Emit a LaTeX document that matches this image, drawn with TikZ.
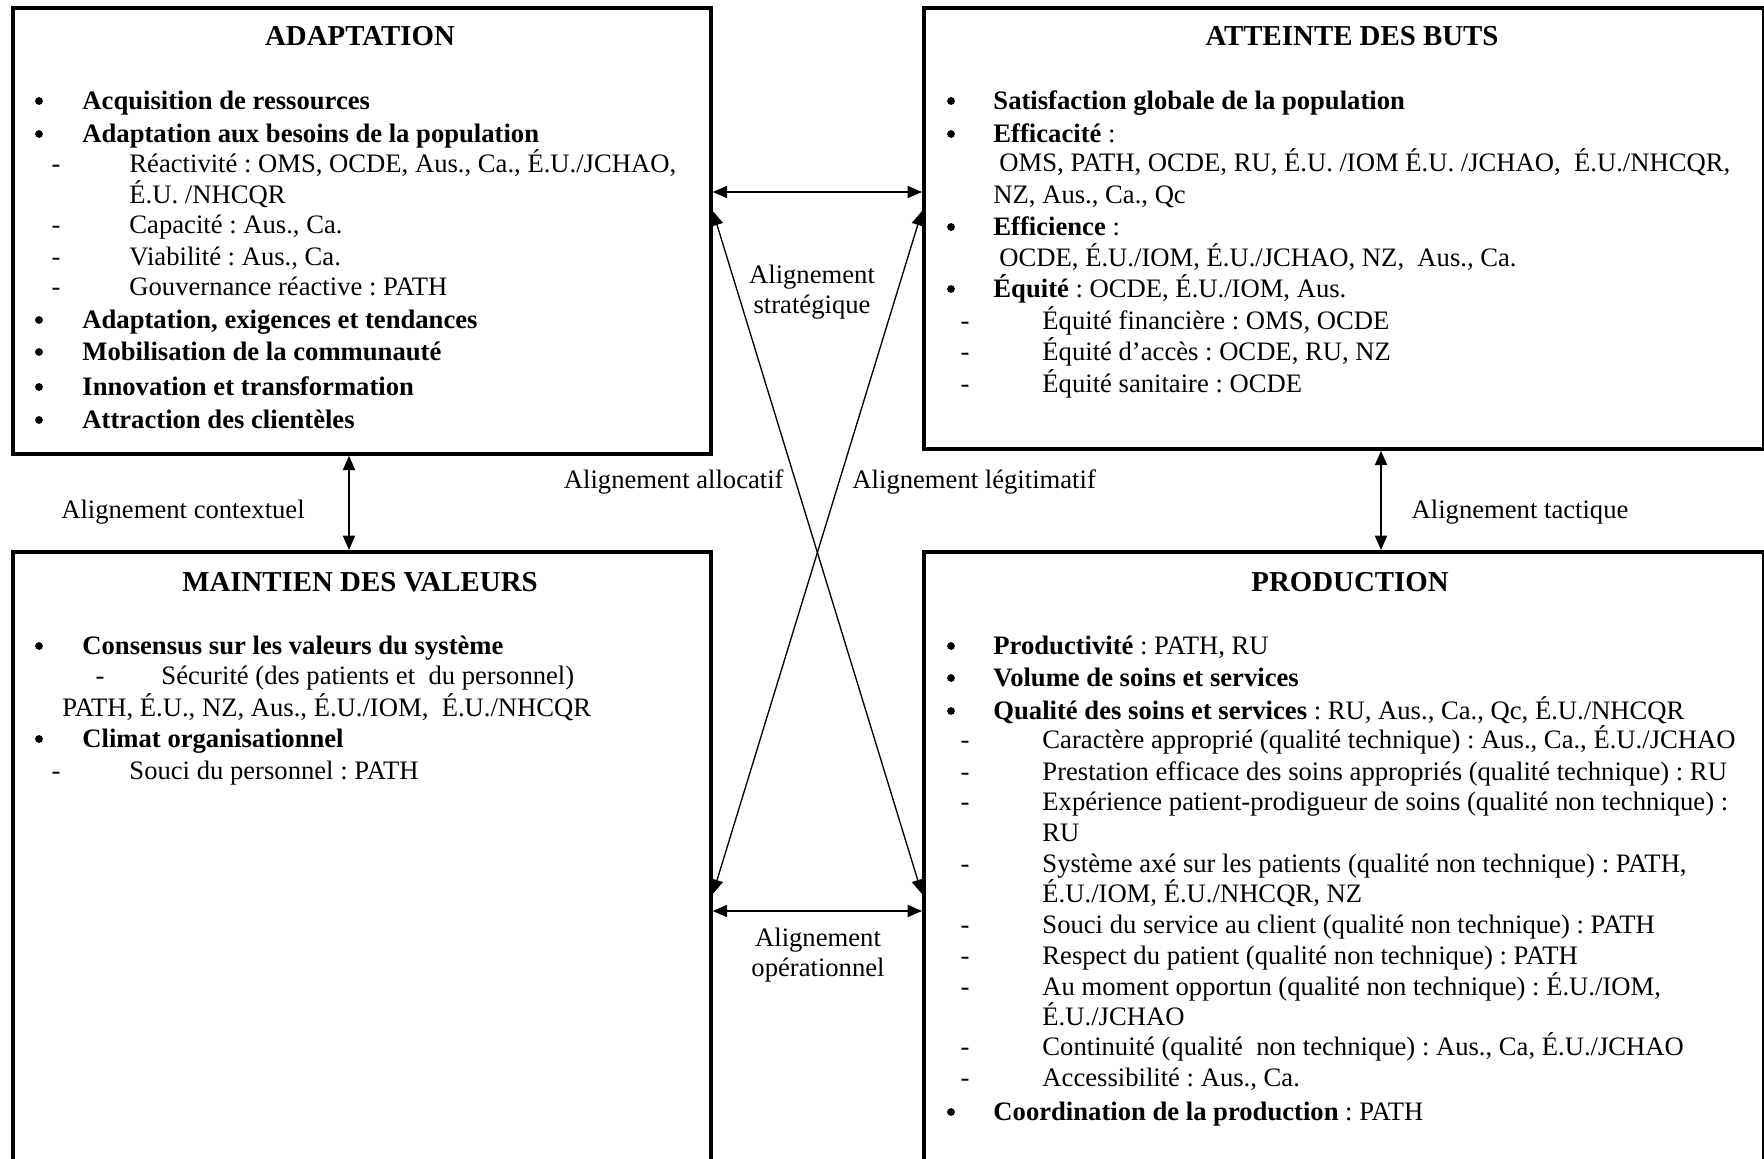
\documentclass[tikz,border=0pt]{standalone}
\usepackage{fontspec}
\setmainfont{Liberation Serif}
\usetikzlibrary{arrows.meta}
\frenchspacing
\def\pxu{0.4505pt}
\tikzstyle{bloc}=[draw,line width=1.7pt,rectangle,anchor=north west,inner sep=0pt]
\tikzstyle{titre}=[font=\fontsize{13}{15}\selectfont\bfseries,anchor=base,inner sep=0pt]
\tikzstyle{ligne}=[anchor=base west,inner sep=0pt]
\tikzstyle{puce}=[circle,fill=black,inner sep=0pt,minimum size=3.5pt]
\tikzstyle{tiret}=[anchor=base,inner sep=0pt]
\tikzstyle{lien}=[draw,line width=0.6pt,<->]
\tikzstyle{etiquette}=[align=center,inner sep=0pt]

\begin{document}
\begin{tikzpicture}[x=\pxu,y=-\pxu,font=\fontsize{12}{13.8}\selectfont,
    >={Triangle[length=6.5pt,width=5.5pt]}]
    \path[use as bounding box,clip] (0,0) rectangle (1764,1158);

    % The four boxes
    \node[bloc,minimum width=698*\pxu,minimum height=446*\pxu] (adapt) at (11,6) {};
    \node[bloc,minimum width=840*\pxu,minimum height=441*\pxu] (buts) at (922,6) {};
    \node[bloc,minimum width=698*\pxu,minimum height=700*\pxu] (valeurs) at (11,550) {};
    \node[bloc,minimum width=840*\pxu,minimum height=700*\pxu] (prod) at (922,550) {};

    \node[titre] (tAdapt) at (360,46) {ADAPTATION};
    \node[titre] (tButs) at (1352,46) {ATTEINTE DES BUTS};
    \node[titre] (tValeurs) at (360,591) {MAINTIEN DES VALEURS};
    \node[titre] (tProd) at (1350,591) {PRODUCTION};

    % Adaptation
    \foreach \y [count=\i] in {109,142,328,360,395,428}
        \node[puce] (pA\i) at (39,\y-8) {};
    \foreach \y [count=\i] in {172,233,265,295}
        \node[tiret] (dA\i) at (56,\y) {-};
    \foreach \x/\y/\t [count=\i] in {82/109/{\textbf{Acquisition de ressources}},
        82/142/{\textbf{Adaptation aux besoins de la population}},
        129/172/{Réactivité : OMS, OCDE, Aus., Ca., É.U./JCHAO,},
        129/203/{É.U. /NHCQR},
        129/233/{Capacité : Aus., Ca.},
        129/265/{Viabilité : Aus., Ca.},
        129/295/{Gouvernance réactive : PATH},
        82/328/{\textbf{Adaptation, exigences et tendances}},
        82/360/{\textbf{Mobilisation de la communauté}},
        82/395/{\textbf{Innovation et transformation}},
        82/428/{\textbf{Attraction des clientèles}}}
        \node[ligne] (lA\i) at (\x,\y) {\t};

    % Atteinte des buts
    \foreach \y [count=\i] in {109,142,235,297}
        \node[puce] (pB\i) at (951,\y-8) {};
    \foreach \y [count=\i] in {329,360,392}
        \node[tiret] (dB\i) at (965,\y) {-};
    \foreach \x/\y/\t [count=\i] in {993/109/{\textbf{Satisfaction globale de la population}},
        993/142/{\textbf{Efficacité} :},
        999/171/{OMS, PATH, OCDE, RU, É.U. /IOM É.U. /JCHAO,\ \ É.U./NHCQR,},
        993/203/{NZ, Aus., Ca., Qc},
        993/235/{\textbf{Efficience} :},
        999/266/{OCDE, É.U./IOM, É.U./JCHAO, NZ,\ \ Aus., Ca.},
        993/297/{\textbf{Équité} : OCDE, É.U./IOM, Aus.},
        1042/329/{Équité financière : OMS, OCDE},
        1042/360/{Équité d’accès : OCDE, RU, NZ},
        1042/392/{Équité sanitaire : OCDE}}
        \node[ligne] (lB\i) at (\x,\y) {\t};

    % Maintien des valeurs
    \foreach \y [count=\i] in {654,747}
        \node[puce] (pC\i) at (39,\y-8) {};
    \foreach \x/\y [count=\i] in {100/684,56/779}
        \node[tiret] (dC\i) at (\x,\y) {-};
    \foreach \x/\y/\t [count=\i] in {82/654/{\textbf{Consensus sur les valeurs du système}},
        161/684/{Sécurité (des patients et\ \ du personnel)},
        62/716/{PATH, É.U., NZ, Aus., É.U./IOM,\ \ É.U./NHCQR},
        82/747/{\textbf{Climat organisationnel}},
        129/779/{Souci du personnel : PATH}}
        \node[ligne] (lC\i) at (\x,\y) {\t};

    % Production
    \foreach \y [count=\i] in {654,686,719,1120}
        \node[puce] (pD\i) at (951,\y-8) {};
    \foreach \y [count=\i] in {748,780,810,872,933,964,995,1055,1086}
        \node[tiret] (dD\i) at (965,\y) {-};
    \foreach \x/\y/\t [count=\i] in {993/654/{\textbf{Productivité} : PATH, RU},
        993/686/{\textbf{Volume de soins et services}},
        993/719/{\textbf{Qualité des soins et services} : RU, Aus., Ca., Qc, É.U./NHCQR},
        1042/748/{Caractère approprié (qualité technique) : Aus., Ca., É.U./JCHAO},
        1042/780/{Prestation efficace des soins appropriés (qualité technique) : RU},
        1042/810/{Expérience patient-prodigueur de soins (qualité non technique) :},
        1042/841/{RU},
        1042/872/{Système axé sur les patients (qualité non technique) : PATH,},
        1042/902/{É.U./IOM, É.U./NHCQR, NZ},
        1042/933/{Souci du service au client (qualité non technique) : PATH},
        1042/964/{Respect du patient (qualité non technique) : PATH},
        1042/995/{Au moment opportun (qualité non technique) : É.U./IOM,},
        1042/1025/{É.U./JCHAO},
        1042/1055/{Continuité (qualité\ \ non technique) : Aus., Ca, É.U./JCHAO},
        1042/1086/{Accessibilité : Aus., Ca.},
        993/1120/{\textbf{Coordination de la production} : PATH}}
        \node[ligne] (lD\i) at (\x,\y) {\t};

    % Alignments between the boxes
    \coordinate (strat) at (815,192);
    \coordinate (oper) at (815,911);
    \coordinate (diagH) at (815,211);
    \coordinate (diagB) at (815,894);
    \coordinate (ctx) at (349,500);
    \coordinate (tac) at (1381,500);

    \path[lien] (adapt.east |- strat) -- (buts.west |- strat);
    \path[lien] (valeurs.east |- oper) -- (prod.west |- oper);
    \path[lien] (adapt.east |- diagH) -- (prod.west |- diagB);
    \path[lien] (buts.west |- diagH) -- (valeurs.east |- diagB);
    \path[lien] (adapt.south -| ctx) -- (valeurs.north -| ctx);
    \path[lien] (buts.south -| tac) -- (prod.north -| tac);

    \node[etiquette] (eStrat) at (812,292) {Alignement\\stratégique};
    \node[etiquette] (eOper) at (818,955) {Alignement\\opérationnel};
    \node[etiquette,anchor=base east] (eAlloc) at (784,488) {Alignement allocatif};
    \node[etiquette,anchor=base west] (eLegit) at (852,488) {Alignement légitimatif};
    \node[etiquette,anchor=base] (eCtx) at (183,518) {Alignement contextuel};
    \node[etiquette,anchor=base] (eTac) at (1520,518) {Alignement tactique};
\end{tikzpicture}
\end{document}
